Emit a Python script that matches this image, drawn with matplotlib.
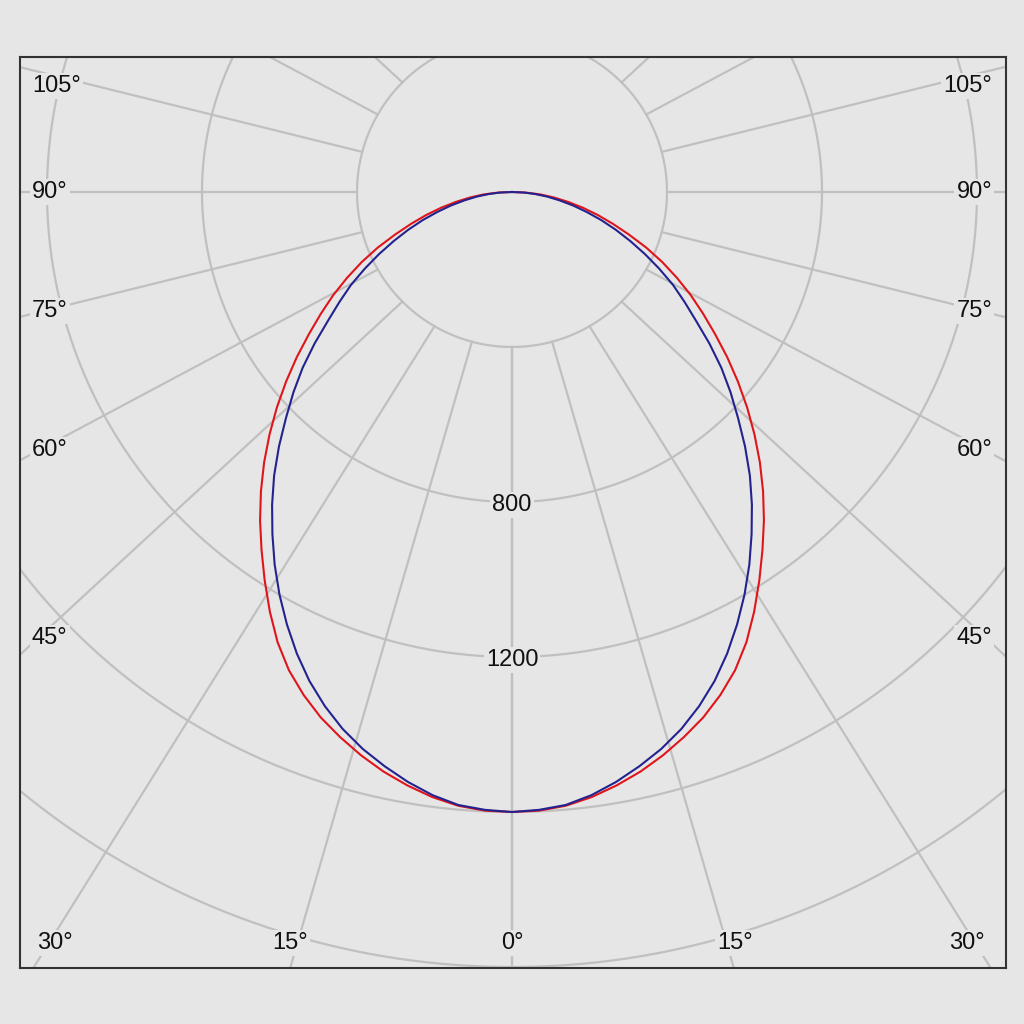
import numpy as np
import matplotlib
matplotlib.use("Agg")
import matplotlib.pyplot as plt

# ---- data (cd; angle from nadir, mirrored both sides) ----
angles_deg = [0, 2.5, 5, 7.5, 10, 12.5, 15, 17.5, 20, 22.5, 25, 27.5, 30, 32.5, 35, 37.5,
              40, 42.5, 45, 47.5, 50, 52.5, 55, 57.5, 60, 62.5, 65, 67.5, 70, 72.5, 75,
              77.5, 80, 82.5, 85, 87.5, 90]
red_cd  = [1600, 1598, 1590, 1575, 1555, 1532, 1505, 1475, 1443, 1405, 1362, 1310, 1250,
           1188, 1127, 1068, 1008, 947, 885, 823, 761, 700, 640, 585, 533, 480, 428, 375,
           321, 273, 229, 187, 147, 110, 75, 37, 0]
blue_cd = [1600, 1596, 1588, 1570, 1546, 1518, 1488, 1453, 1412, 1366, 1314, 1258, 1200,
           1140, 1078, 1017, 955, 890, 825, 765, 705, 642, 580, 528, 480, 428, 378, 330,
           285, 242, 200, 162, 125, 92, 60, 30, 0]

ring_values = [400, 800, 1200, 1600, 2000]
ring_labels = ["800", "1200"]
ring_label_values = [800, 1200]
spoke_angles = list(range(0, 181, 15))

left_labels = ["105°", "90°", "75°", "60°", "45°"]
left_label_y = [86, 192, 311, 450, 638]
bottom_labels = ["30°", "15°", "0°", "15°", "30°"]
bottom_label_x = [55, 290, 512, 735, 967]

BG = "#e6e6e6"
GRID = "#c0c0c0"
FONT = "Liberation Sans"

fig = plt.figure(figsize=(10.24, 10.24), dpi=100, facecolor=BG)
# frame in pixels: x 20..1006, y 57..968 ; pole at (512,192); 400 cd = 155 px
s = 155 / 400.0
L, R, T, B = 20, 1006, 57, 968
cx, cy = 512, 192
ax = fig.add_axes([L / 1024, (1024 - B) / 1024, (R - L) / 1024, (B - T) / 1024])
ax.set_facecolor(BG)
ax.set_xlim((L - cx) / s, (R - cx) / s)
ax.set_ylim(-(B - cy) / s, (cy - T) / s)
ax.set_xticks([]); ax.set_yticks([])
for sp in ax.spines.values():
    sp.set_color("#333333"); sp.set_linewidth(1.5)

# rings
t = np.linspace(0, 2 * np.pi, 721)
for rv in ring_values:
    ax.plot(rv * np.cos(t), rv * np.sin(t), color=GRID, lw=1.6, zorder=1)

# spokes (from inner ring outward)
k = 1.07
for a in spoke_angles:
    for sgn in (1, -1):
        th = np.radians(a) * sgn
        x0, y0 = ring_values[0] * np.sin(th), -ring_values[0] * np.cos(th)
        x1, y1 = 2600 * k * np.sin(th), -2600 * np.cos(th)
        ax.plot([x0, x1], [y0, y1], color=GRID, lw=1.6, zorder=1)

# curves
ang = np.radians(np.array(angles_deg, dtype=float))
full_ang = np.concatenate([-ang[::-1], ang[1:]])
for vals, col in ((red_cd, "#e0151b"), (blue_cd, "#23238f")):
    v = np.array(vals, dtype=float)
    full_v = np.concatenate([v[::-1], v[1:]])
    ax.plot(full_v * np.sin(full_ang), -full_v * np.cos(full_ang), color=col, lw=1.5,
            zorder=3, solid_joinstyle="round")

box = dict(facecolor=BG, edgecolor="none", pad=1.5)
fs = 17
for lab, val in zip(ring_labels, ring_label_values):
    ax.text(0, -val - 8, lab, ha="center", va="center", fontsize=fs, family=FONT,
            color="#111111", bbox=box, zorder=4)

for lab, py in zip(left_labels, left_label_y):
    fig.text(32 / 1024, (1024 - py) / 1024, lab, ha="left", va="center", fontsize=fs,
             family=FONT, color="#111111", bbox=box, zorder=5)
    fig.text(992 / 1024, (1024 - py) / 1024, lab, ha="right", va="center", fontsize=fs,
             family=FONT, color="#111111", bbox=box, zorder=5)
for lab, px in zip(bottom_labels, bottom_label_x):
    fig.text(px / 1024, (1024 - 943) / 1024, lab, ha="center", va="center", fontsize=fs,
             family=FONT, color="#111111", bbox=box, zorder=5)

fig.savefig("out.png", dpi=100, facecolor=BG)
